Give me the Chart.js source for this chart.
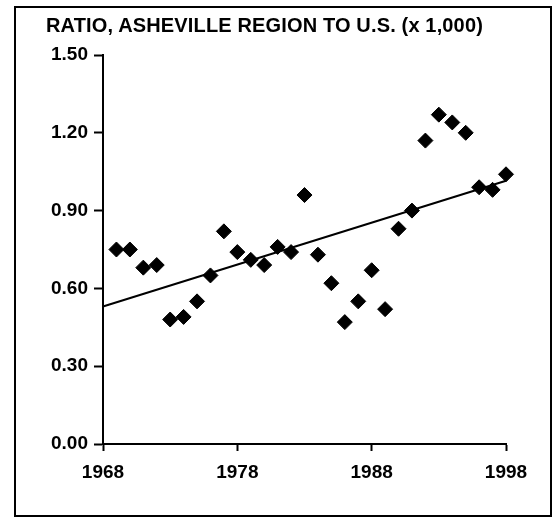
<!DOCTYPE html>
<html>
<head>
<meta charset="utf-8">
<script src="https://cdn.jsdelivr.net/npm/chart.js@4/dist/chart.umd.min.js"></script>
<style>
  html, body { margin: 0; padding: 0; background: #fff; }
  #wrap { position: relative; width: 556px; height: 521px; overflow: hidden; }
  #frame {
    position: absolute; left: 14px; top: 6px; width: 538px; height: 511px;
    border: 2px solid #000; box-sizing: border-box; pointer-events: none;
  }
  #title {
    position: absolute; left: 46px; top: 14px; line-height: 20px;
    font: bold 20px "Liberation Sans", Arial, sans-serif; color: #000;
    white-space: nowrap; letter-spacing: 0.15px;
  }
  canvas { position: absolute; left: 0; top: 0; }
</style>
</head>
<body>
<div id="wrap">
  <canvas id="chart" width="556" height="521"></canvas>
  <div id="frame"></div>
  <div id="title">RATIO, ASHEVILLE REGION TO U.S. (x 1,000)</div>
</div>
<script>
// ---- Data ----
const years = [1969, 1970, 1971, 1972, 1973, 1974, 1975, 1976, 1977, 1978,
  1979, 1980, 1981, 1982, 1983, 1984, 1985, 1986, 1987, 1988,
  1989, 1990, 1991, 1992, 1993, 1994, 1995, 1996, 1997, 1998];
const ratios = [0.75, 0.75, 0.68, 0.69, 0.48, 0.49, 0.55, 0.65, 0.82, 0.74,
  0.71, 0.69, 0.76, 0.74, 0.96, 0.73, 0.62, 0.47, 0.55, 0.67,
  0.52, 0.83, 0.90, 1.17, 1.27, 1.24, 1.20, 0.99, 0.98, 1.04];

// trend line end points
const trendYears = [1968, 1998];
const trendValues = [0.53, 1.015];

const xTicks = [1968, 1978, 1988, 1998];
const yTicks = [0, 0.3, 0.6, 0.9, 1.2, 1.5];

const FONT = '"Liberation Sans", Arial, sans-serif';

const axisCommon = {
  border: { display: true, color: '#000', width: 2 },
  grid: {
    display: true,
    drawOnChartArea: false,
    drawTicks: true,
    color: '#000',
    tickColor: '#000',
    tickWidth: 2,
  },
};

new Chart(document.getElementById('chart').getContext('2d'), {
  type: 'scatter',
  data: {
    datasets: [
      {
        label: 'Ratio',
        data: years.map((y, i) => ({ x: y, y: ratios[i] })),
        pointStyle: 'rectRot',
        pointRadius: 7.5,
        pointHoverRadius: 7.5,
        backgroundColor: '#000',
        borderColor: '#000',
        borderWidth: 1,
        clip: false,
        order: 1,
      },
      {
        label: 'Trend',
        type: 'line',
        data: trendYears.map((y, i) => ({ x: y, y: trendValues[i] })),
        borderColor: '#000',
        borderWidth: 2,
        pointRadius: 0,
        fill: false,
        clip: false,
        order: 2,
      },
    ],
  },
  options: {
    responsive: false,
    animation: false,
    events: [],
    layout: { padding: { left: 0, right: 50, top: 55, bottom: 0 } },
    plugins: {
      legend: { display: false },
      tooltip: { enabled: false },
    },
    scales: {
      x: {
        ...axisCommon,
        type: 'linear',
        min: 1968,
        max: 1998,
        grid: { ...axisCommon.grid, tickLength: 7 },
        afterBuildTicks: (scale) => {
          scale.ticks = xTicks.map((v) => ({ value: v }));
        },
        afterFit: (scale) => { scale.height = 77; },
        ticks: {
          color: '#000',
          font: { family: FONT, size: 19, weight: 'bold' },
          padding: 10,
          maxRotation: 0,
          autoSkip: false,
          callback: (v) => String(v),
        },
      },
      y: {
        ...axisCommon,
        min: 0,
        max: 1.5,
        grid: { ...axisCommon.grid, tickLength: 9 },
        afterBuildTicks: (scale) => {
          scale.ticks = yTicks.map((v) => ({ value: v }));
        },
        afterFit: (scale) => { scale.width = 103; },
        ticks: {
          color: '#000',
          font: { family: FONT, size: 19, weight: 'bold' },
          padding: 6,
          callback: (v) => Number(v).toFixed(2),
        },
      },
    },
  },
});
</script>
</body>
</html>
